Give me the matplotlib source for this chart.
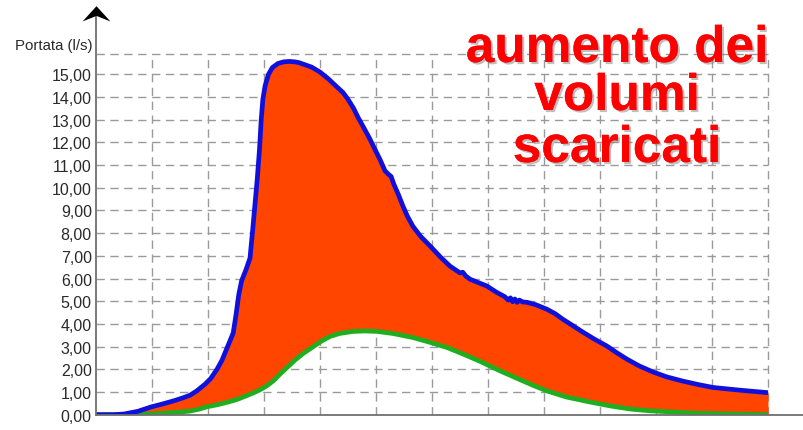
import numpy as np
import matplotlib.pyplot as plt
import matplotlib.patheffects as pe
from matplotlib.path import Path
from matplotlib.ticker import FuncFormatter

plt.rcParams['font.family'] = ['Liberation Sans', 'DejaVu Sans']

# hydrograph after urbanisation (blue) and before (green), flow in l/s
blue_x = [0.0, 0.3, 0.5, 0.75, 0.98, 1.2, 1.4, 1.55, 1.68, 1.8, 1.95, 2.05, 2.16, 2.25,
          2.35, 2.45, 2.5, 2.55, 2.6, 2.68, 2.75, 2.8, 2.84, 2.88, 2.92, 2.95, 2.98,
          3.02, 3.08, 3.15, 3.25, 3.35, 3.45, 3.55, 3.62, 3.70, 3.85, 4.0, 4.15, 4.3,
          4.41, 4.5, 4.6, 4.68, 4.77, 4.88, 4.98, 5.08, 5.16, 5.22, 5.27, 5.32, 5.40,
          5.48, 5.56, 5.66, 5.8, 5.96, 6.15, 6.32, 6.5, 6.55, 6.6, 6.68, 6.85, 6.98,
          7.15, 7.30, 7.36, 7.40, 7.44, 7.48, 7.52, 7.56, 7.62, 7.70, 7.85, 8.05, 8.2,
          8.34, 8.5, 8.70, 8.9, 9.12, 9.3, 9.48, 9.7, 9.95, 10.2, 10.48, 10.75, 11.02,
          11.5, 12.0]
blue_y = [0.0, 0.0, 0.03, 0.15, 0.34, 0.48, 0.62, 0.74, 0.86, 1.05, 1.35, 1.6, 2.0, 2.4,
          3.0, 3.6, 4.4, 5.3, 5.9, 6.4, 6.9, 8.2, 9.3, 10.4, 11.7, 13.0, 13.9,
          14.5, 15.0, 15.3, 15.48, 15.55, 15.57, 15.55, 15.52, 15.45, 15.32, 15.1, 14.8, 14.45,
          14.2, 13.9, 13.5, 13.1, 12.7, 12.2, 11.7, 11.2, 10.75, 10.6, 10.5, 10.15, 9.7,
          9.2, 8.75, 8.3, 7.85, 7.45, 6.95, 6.55, 6.25, 6.28, 6.12, 5.97, 5.8, 5.67,
          5.4, 5.2, 5.05, 5.15, 4.98, 5.1, 4.95, 5.05, 4.97, 4.95, 4.85, 4.65, 4.45,
          4.2, 3.95, 3.63, 3.33, 3.03, 2.73, 2.45, 2.15, 1.88, 1.66, 1.48, 1.33, 1.2,
          1.08, 0.97]

green_x = [0.0, 0.61, 0.8, 0.96, 1.2, 1.38, 1.55, 1.68, 1.85, 1.98, 2.15, 2.3, 2.45, 2.57,
           2.7, 2.8, 2.93, 3.05, 3.17, 3.29, 3.42, 3.55, 3.7, 3.88, 4.03, 4.18, 4.35,
           4.59, 4.8, 5.02, 5.3, 5.66, 5.95, 6.27, 6.55, 6.86, 7.2, 7.52, 7.8, 8.05,
           8.4, 8.82, 9.2, 9.54, 9.9, 10.3, 10.7, 11.14, 11.6, 12.0]
green_y = [0.0, 0.0, 0.01, 0.03, 0.06, 0.1, 0.13, 0.16, 0.25, 0.35, 0.43, 0.52, 0.62, 0.72,
           0.85, 0.95, 1.1, 1.27, 1.5, 1.8, 2.1, 2.4, 2.7, 3.0, 3.25, 3.45, 3.58,
           3.67, 3.69, 3.67, 3.58, 3.4, 3.2, 2.96, 2.68, 2.35, 1.95, 1.6, 1.3, 1.05,
           0.78, 0.56, 0.38, 0.25, 0.17, 0.12, 0.07, 0.04, 0.02, 0.0]

y_ticks = list(range(0, 16))
x_grid = list(range(1, 13))

fig = plt.figure(figsize=(8.04, 4.31), dpi=100)
ax = fig.add_axes([96 / 804, 15.3 / 431, 708 / 804, 415.7 / 431])
ax.set_xlim(0, 708 / 56.0)
ax.set_ylim(0, 415.7 / 22.69)
for s in ax.spines.values():
    s.set_visible(False)

# dashed grid, limited to the plot area
top = 15.9
grid_kw = dict(color='#9a9a9a', lw=1, ls=(0, (6, 4)), zorder=1)
for y in y_ticks[1:] + [top]:
    ax.plot([0, 12], [y, y], **grid_kw)
for x in x_grid:
    ax.plot([x, x], [0, top], **grid_kw)

# area between the two hydrographs
xs = np.linspace(0, 12, 2400)
by = np.interp(xs, blue_x, blue_y)
gy = np.interp(xs, green_x, green_y)
ax.fill_between(xs, gy, by, color='#ff4500', lw=0, zorder=2)
ax.plot(green_x, green_y, color='#1fae1f', lw=3.4, solid_capstyle='butt',
        solid_joinstyle='round', zorder=3)
ax.plot(blue_x, blue_y, color='#1010dc', lw=3.4, solid_capstyle='butt',
        solid_joinstyle='round', zorder=4)

# axes with arrow heads (notched chevron)
head = Path([(0, 0.3), (0.5, -0.25), (0, -0.05), (-0.5, -0.25), (0, 0.3)],
            [Path.MOVETO, Path.LINETO, Path.LINETO, Path.LINETO, Path.CLOSEPOLY])
ax.plot([0, 0], [0, 17.6], color='#707070', lw=1.3, zorder=5, clip_on=False)
ax.plot([0, 12.8], [0, 0], color='#707070', lw=1.3, zorder=5, clip_on=False)
ax.plot(0, 17.65, marker=head, ms=20, color='black', mew=0, zorder=6, clip_on=False)
ax.plot(12.93, 0, marker=head.transformed(
    __import__('matplotlib').transforms.Affine2D().rotate_deg(-90)),
    ms=20, color='black', mew=0, zorder=6, clip_on=False)

ax.set_yticks(y_ticks)
ax.yaxis.set_major_formatter(FuncFormatter(lambda v, p: f'{v:.2f}'.replace('.', ',')))
ax.tick_params(axis='y', length=0, labelsize=11.5, labelcolor='#2a2a2a', pad=3)
ax.set_xticks([])

fig.text(93 / 804, 1 - 50 / 431, 'Portata (l/s)', ha='right', va='baseline',
         fontsize=10.8, color='#2a2a2a')

shadow = [pe.withSimplePatchShadow(offset=(1.5, -1.5), shadow_rgbFace='#808080', alpha=0.5),
          pe.Normal()]
for txt, base in [('aumento dei', 63), ('volumi', 111), ('scaricati', 163)]:
    fig.text(617 / 804, 1 - base / 431, txt, ha='center', va='baseline', fontsize=37,
             fontweight='bold', color='#ff0000', path_effects=shadow, zorder=10)

fig.savefig('out.png', dpi=100)
